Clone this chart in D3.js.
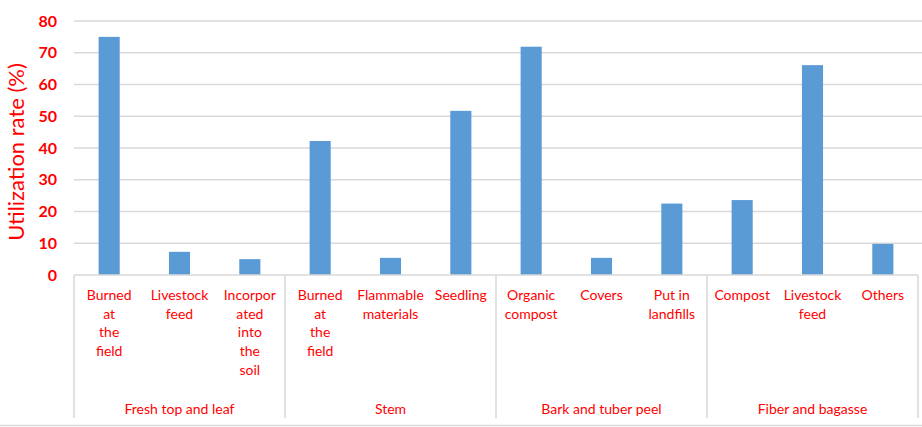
<!DOCTYPE html>
<html>
<head>
<meta charset="utf-8">
<script src="https://cdn.jsdelivr.net/npm/d3@7"></script>
<style>
  body { margin: 0; background: #fff; }
  text { font-family: Lato, "Open Sans", sans-serif; }
</style>
</head>
<body>
<div id="viz"></div>
<script>
const width = 922;
const height = 427;
const margin = {top: 21, right: 4, bottom: 152, left: 74};

// data
const groups = ['Fresh top and leaf', 'Stem', 'Bark and tuber peel', 'Fiber and bagasse'];
const categories = [
  'Burned\nat\nthe\nfield', 'Livestock\nfeed', 'Incorpor\nated\ninto\nthe\nsoil',
  'Burned\nat\nthe\nfield', 'Flammable\nmaterials', 'Seedling',
  'Organic\ncompost', 'Covers', 'Put in\nlandfills',
  'Compost', 'Livestock\nfeed', 'Others'
];
const categoryGroup = [0, 0, 0, 1, 1, 1, 2, 2, 2, 3, 3, 3];
const values = [75, 7.3, 5, 42.2, 5.4, 51.7, 71.9, 5.4, 22.5, 23.6, 66.1, 9.8];
const yTicks = [0, 10, 20, 30, 40, 50, 60, 70, 80];

const red = '#ff0000';
const barColor = '#5b9bd5';
const gridColor = '#d9d9d9';

const svg = d3.select('#viz')
  .append('svg')
    .attr('width', width)
    .attr('height', height);

const x0 = margin.left;
const x1 = width - margin.right;
const yBase = height - margin.bottom;

const idx = categories.map((d, i) => i);
const xSlot = d3.scaleBand().domain(idx).range([x0, x1]);
const xBar = d3.scaleBand().domain(idx).range([x0, x1])
  .paddingInner(0.7).paddingOuter(0.35);
const xGroup = d3.scaleBand().domain(groups).range([x0, x1]);

const y = d3.scaleLinear().domain([0, 80]).range([yBase, margin.top]);

// gridlines
svg.append('g')
  .selectAll('line').data(yTicks.filter(d => d > 0)).join('line')
    .attr('x1', x0).attr('x2', width)
    .attr('y1', d => y(d)).attr('y2', d => y(d))
    .attr('stroke', gridColor).attr('stroke-width', 1.5);

// y tick labels
svg.append('g')
  .selectAll('text').data(yTicks).join('text')
    .attr('x', 57)
    .attr('y', d => y(d))
    .attr('dy', '0.35em')
    .attr('text-anchor', 'end')
    .attr('fill', red)
    .attr('font-size', 16)
    .attr('font-weight', 'bold')
    .text(d => d);

// y title
svg.append('text')
  .attr('transform', `translate(24, ${(margin.top + yBase) / 2 + 4}) rotate(-90)`)
  .attr('text-anchor', 'middle')
  .attr('fill', red)
  .attr('font-size', 22)
  .text('Utilization rate (%)');

// bars
svg.append('g')
  .selectAll('rect').data(values).join('rect')
    .attr('x', (d, i) => xBar(i))
    .attr('y', d => y(d))
    .attr('width', xBar.bandwidth())
    .attr('height', d => yBase - y(d))
    .attr('fill', barColor);

// x axis line
svg.append('line')
  .attr('x1', x0).attr('x2', x1)
  .attr('y1', yBase).attr('y2', yBase)
  .attr('stroke', gridColor).attr('stroke-width', 1.5);

// group dividers
const dividers = groups.map(g => xGroup(g)).concat([x1]);
svg.append('g')
  .selectAll('line').data(dividers).join('line')
    .attr('x1', d => d).attr('x2', d => d)
    .attr('y1', yBase).attr('y2', 418)
    .attr('stroke', gridColor).attr('stroke-width', 1.5);

// category labels
const catLabels = svg.append('g')
  .selectAll('text').data(categories).join('text')
    .attr('x', (d, i) => xSlot(i) + xSlot.bandwidth() / 2)
    .attr('y', 300)
    .attr('text-anchor', 'middle')
    .attr('fill', red)
    .attr('font-size', 14);
catLabels.each(function(d, i) {
  const lines = d.split('\n');
  d3.select(this).selectAll('tspan').data(lines).join('tspan')
    .attr('x', xSlot(i) + xSlot.bandwidth() / 2)
    .attr('dy', (l, j) => j === 0 ? 0 : 18.7)
    .text(l => l);
});

// group labels
svg.append('g')
  .selectAll('text').data(groups).join('text')
    .attr('x', d => xGroup(d) + xGroup.bandwidth() / 2)
    .attr('y', 414)
    .attr('text-anchor', 'middle')
    .attr('fill', red)
    .attr('font-size', 14)
    .text(d => d);

// bottom frame line
svg.append('line')
  .attr('x1', 0).attr('x2', width)
  .attr('y1', 425.5).attr('y2', 425.5)
  .attr('stroke', gridColor).attr('stroke-width', 1.5);
</script>
</body>
</html>
